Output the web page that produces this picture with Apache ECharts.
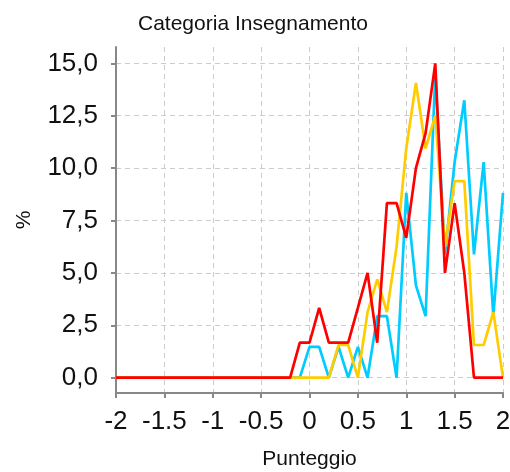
<!DOCTYPE html>
<html>
<head>
<meta charset="utf-8">
<script src="https://cdn.jsdelivr.net/npm/echarts@6/dist/echarts.min.js"></script>
<style>html,body{margin:0;padding:0;background:#fff;}#c{width:510px;height:472px;}</style>
</head>
<body>
<div id="c"></div>
<script>
const titleText = 'Categoria Insegnamento';
const xName = 'Punteggio';
const yName = '%';
const xValues = [-2,-1.9,-1.8,-1.7,-1.6,-1.5,-1.4,-1.3,-1.2,-1.1,-1,-0.9,-0.8,-0.7,-0.6,-0.5,-0.4,-0.3,-0.2,-0.1,0,0.1,0.2,0.3,0.4,0.5,0.6,0.7,0.8,0.9,1,1.1,1.2,1.3,1.4,1.5,1.6,1.7,1.8,1.9,2];
const cyanValues = [0,0,0,0,0,0,0,0,0,0,0,0,0,0,0,0,0,0,0,0,1.47,1.47,0,1.47,0,1.47,0,2.94,2.94,0,8.82,4.41,2.94,14.5,5.88,10.29,13.24,5.88,10.29,2.94,8.82];
const yellowValues = [0,0,0,0,0,0,0,0,0,0,0,0,0,0,0,0,0,0,0,0,0,0,0,1.56,1.56,0,3.13,4.69,3.13,6.25,10.94,14.06,10.94,12.5,6.25,9.38,9.38,1.56,1.56,3.13,0];
const redValues = [0,0,0,0,0,0,0,0,0,0,0,0,0,0,0,0,0,0,0,1.67,1.67,3.33,1.67,1.67,1.67,3.33,5,1.67,8.33,8.33,6.67,10,11.67,15,5,8.33,5,0,0,0,0];
const yTicks = [0,2.5,5,7.5,10,12.5,15];

const pair = v => xValues.map((x,i)=>[x,v[i]]);
const font = 'Liberation Sans, Arial, sans-serif';
const chart = echarts.init(document.getElementById('c'));
chart.setOption({
  animation:false,
  title:{text:titleText,left:248,textAlign:'center',top:9,textStyle:{fontFamily:font,fontSize:21,fontWeight:'normal',color:'#111'}},
  grid:{left:116,right:7,top:47,bottom:79,containLabel:false,outerBoundsMode:'none'},
  xAxis:{type:'value',min:-2,max:2,interval:0.5,
    name:xName,nameLocation:'middle',nameGap:56,nameTextStyle:{fontFamily:font,fontSize:21,color:'#111'},
    axisLine:{onZero:false,lineStyle:{color:'#888',width:2}},
    axisTick:{show:true,length:5,lineStyle:{color:'#888',width:2}},
    axisLabel:{fontFamily:font,fontSize:26,color:'#111',margin:16,formatter:v=>String(v)},
    splitLine:{show:true,lineStyle:{color:'#ccc',type:[5,4],width:1}}
  },
  yAxis:{type:'value',min:-0.73,max:15.78,
    name:yName,nameLocation:'middle',nameGap:81,nameRotate:90,nameTextStyle:{fontFamily:font,fontSize:21,color:'#111'},
    axisLine:{show:true,onZero:false,lineStyle:{color:'#888',width:2}},
    axisTick:{show:true,length:5,customValues:yTicks,lineStyle:{color:'#888',width:2}},
    axisLabel:{fontFamily:font,fontSize:26,color:'#111',margin:18,customValues:yTicks,formatter:v=>v.toFixed(1).replace('.',',')},
    splitLine:{show:true,lineStyle:{color:'#ccc',type:[5,4],width:1}}
  },
  series:[
    {name:'Serie 1',type:'line',data:pair(cyanValues),showSymbol:false,lineStyle:{color:'#00ccff',width:2.7},itemStyle:{color:'#00ccff'}},
    {name:'Serie 2',type:'line',data:pair(yellowValues),showSymbol:false,lineStyle:{color:'#ffcc00',width:2.7},itemStyle:{color:'#ffcc00'}},
    {name:'Serie 3',type:'line',data:pair(redValues),showSymbol:false,lineStyle:{color:'#ff0000',width:2.7},itemStyle:{color:'#ff0000'}}
  ]
});
</script>
</body>
</html>
